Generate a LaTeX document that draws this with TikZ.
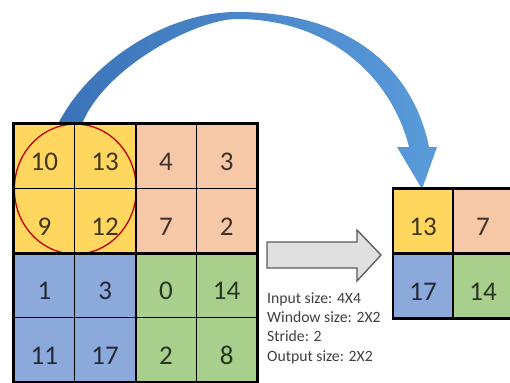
\documentclass[tikz,border=0pt]{standalone}
\usepackage{fontspec}
\setmainfont{Carlito}
\usepackage{tikz}
\usepackage{xcolor}
\usetikzlibrary{positioning}
\definecolor{sand}{HTML}{FFD65E}
\definecolor{peach}{HTML}{F7C8A8}
\definecolor{cornflower}{HTML}{8CA9DC}
\definecolor{sage}{HTML}{A8D08C}
\definecolor{crimson}{HTML}{C00000}
\definecolor{ocean}{HTML}{3B73B8}
\definecolor{sky}{HTML}{5A9BDA}
\definecolor{black75}{HTML}{404040}
\definecolor{black60}{HTML}{5A5A5A}
\definecolor{black15}{HTML}{E0E0E0}

\tikzset{
  cell/.style={draw=black, line width=1.2pt, fill=#1, text=#1!25!black,
    minimum width=60.75pt, minimum height=64.5pt, inner sep=0pt,
    text height=29pt, text depth=0pt, font=\fontsize{27}{27}\selectfont},
  outcell/.style={cell=#1, line width=2.6pt, minimum width=60pt},
  border/.style={line width=2.6pt, black, line cap=rect},
  note/.style={font=\fontsize{15.7}{19}\selectfont, text=black75, inner sep=0pt},
}

\begin{document}
\begin{tikzpicture}[x=1pt, y=-1pt]
    \useasboundingbox (0,0) rectangle (510,382);

    % Curved arrow from the pooled window to the output
    \shade[left color=ocean, right color=sky]
        (58,124) .. controls (86,68) and (161,12) .. (237,12)
        .. controls (359,12) and (415,77) .. (429,147)
        -- (437,147) -- (422,189) -- (397,147) -- (409,147)
        .. controls (391.5,77) and (329,19) .. (237,19)
        .. controls (197,19) and (105,66.6) .. (82,124) -- cycle;

    % Input feature map (4x4)
    \foreach \r/\c/\v in {1/1/10,1/2/13,2/1/9,2/2/12}
        \node[cell=sand] (in-\r-\c) at ({14+(\c-0.5)*60.75},{124+(\r-0.5)*64.5}) {\v};
    \foreach \r/\c/\v in {1/3/4,1/4/3,2/3/7,2/4/2}
        \node[cell=peach] (in-\r-\c) at ({14+(\c-0.5)*60.75},{124+(\r-0.5)*64.5}) {\v};
    \foreach \r/\c/\v in {3/1/1,3/2/3,4/1/11,4/2/17}
        \node[cell=cornflower] (in-\r-\c) at ({14+(\c-0.5)*60.75},{124+(\r-0.5)*64.5}) {\v};
    \foreach \r/\c/\v in {3/3/0,3/4/14,4/3/2,4/4/8}
        \node[cell=sage] (in-\r-\c) at ({14+(\c-0.5)*60.75},{124+(\r-0.5)*64.5}) {\v};

    % Pooling window
    \draw[crimson, line width=1.3pt] (in-1-1.south east) circle [x radius=61pt, y radius=65pt];

    % Block borders
    \draw[border] (in-1-1.north west) rectangle (in-4-4.south east);
    \draw[border] (in-1-2.north east) -- (in-4-2.south east);
    \draw[border] (in-2-1.south west) -- (in-2-4.south east);

    % Output feature map (2x2)
    \node[outcell=sand] (out-1-1) at (423,221) {13};
    \node[outcell=peach] (out-1-2) at (483,221) {7};
    \node[outcell=cornflower] (out-2-1) at (423,286) {17};
    \node[outcell=sage] (out-2-2) at (483,286) {14};

    % Block arrow
    \draw[line width=1.3pt, black60, fill=black15, line join=miter]
        (267,242) -- (357,242) -- (357,230) -- (381,255) -- (357,281) -- (357,268) -- (267,268) -- cycle;

    % Settings
    \foreach \t [count=\i] in {Input size: 4X4, Window size: 2X2, Stride: 2, Output size: 2X2}
        \node[note, anchor=base west] (note-\i) at (267,{303+(\i-1)*19.4}) {\t};

\end{tikzpicture}
\end{document}
